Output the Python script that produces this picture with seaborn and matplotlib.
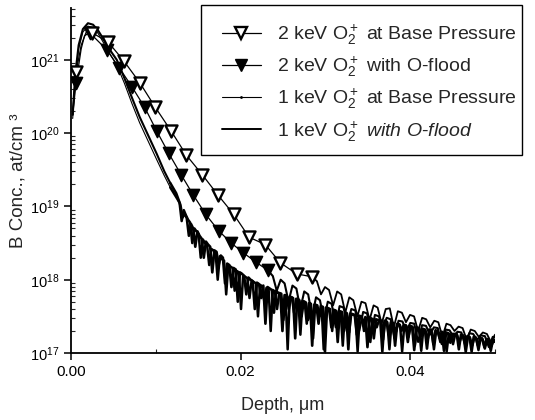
import numpy as np
import pandas as pd
import seaborn as sns
import matplotlib.pyplot as plt
from matplotlib.lines import Line2D
from matplotlib.patches import Rectangle
from matplotlib.ticker import FixedLocator, FormatStrFormatter, LogLocator

# ---------- data (log10 of B concentration, at/cm3) ----------
# 2 keV O2+ at base pressure: marker points, then noisy tail
depth_2b = [0.0002, 0.0006, 0.0012, 0.0018, 0.0025, 0.0044, 0.0062, 0.0081, 0.0099, 0.0118,
            0.0136, 0.0155, 0.0173, 0.0192, 0.0210, 0.0229, 0.0247, 0.0266, 0.0284]
log_2b = [20.30, 20.83, 21.20, 21.38, 21.37, 21.24, 20.99, 20.69, 20.36, 20.03,
          19.70, 19.43, 19.16, 18.89, 18.58, 18.48, 18.23, 18.08, 18.04]
mark_2b = [1, 4, 5, 6, 7, 8, 9, 10, 11, 12, 13, 14, 15, 16, 17, 18]
tail_2b = [17.98, 17.80, 17.90, 17.86, 17.65, 17.84, 17.80, 17.55, 17.76, 17.72, 17.50, 17.70,
           17.68, 17.45, 17.65, 17.62, 17.40, 17.60, 17.61, 17.35, 17.57, 17.55, 17.42, 17.52,
           17.50, 17.30, 17.48, 17.46, 17.35, 17.44, 17.42, 17.22, 17.40, 17.38, 17.30, 17.36,
           17.34, 17.18, 17.32, 17.30, 17.22, 17.28, 17.26, 17.15, 17.25]

# 2 keV O2+ with O-flood
depth_2f = [0.0002, 0.0006, 0.0012, 0.0016, 0.0022, 0.0042, 0.0057, 0.0072, 0.0087, 0.0101,
            0.0115, 0.0130, 0.0144, 0.0159, 0.0174, 0.0189, 0.0203, 0.0218, 0.0232]
log_2f = [20.25, 20.69, 21.15, 21.33, 21.37, 21.14, 20.89, 20.63, 20.35, 20.03,
          19.73, 19.43, 19.16, 18.89, 18.67, 18.50, 18.37, 18.24, 18.13]
mark_2f = [1, 4, 5, 6, 7, 8, 9, 10, 11, 12, 13, 14, 15, 16, 17, 18]
tail_2f = [18.05, 17.85, 18.00, 17.95, 17.70, 17.92, 17.88, 17.60, 17.84, 17.80, 17.50, 17.76,
           17.72, 17.45, 17.70, 17.67, 17.35, 17.64, 17.62, 17.40, 17.60, 17.58, 17.30, 17.56,
           17.54, 17.25, 17.52, 17.50, 17.35, 17.48, 17.46, 17.20, 17.44, 17.43, 17.30, 17.41,
           17.40, 17.15, 17.38, 17.37, 17.25, 17.35, 17.34, 17.12, 17.32, 17.31, 17.22, 17.29,
           17.28, 17.10, 17.27, 17.26, 17.18, 17.24, 17.23, 17.08, 17.22, 17.21]

# 1 keV profiles: smooth near surface, noisy beyond ~0.012 um
depth_1 = [0.0002, 0.0005, 0.0009, 0.0014, 0.0020, 0.0026, 0.0032, 0.0040, 0.0048,
           0.0054, 0.0063, 0.0072, 0.0081, 0.0091, 0.0101, 0.0110, 0.0117]
log_1b = [20.20, 20.75, 21.15, 21.38, 21.46, 21.44, 21.36, 21.20, 21.04,
          20.93, 20.68, 20.40, 20.14, 19.89, 19.64, 19.42, 19.26]
log_1f = [20.25, 20.80, 21.20, 21.42, 21.50, 21.48, 21.40, 21.25, 21.10,
          21.00, 20.75, 20.48, 20.22, 19.97, 19.72, 19.48, 19.32]
tail_1b = [19.10, 19.05, 18.80, 18.95, 18.88, 18.82, 18.78, 18.50, 18.70, 18.66, 18.62, 18.30,
           18.55, 18.50, 18.47, 18.20, 18.42, 18.40, 18.36, 18.00, 18.32, 18.28, 18.26, 17.80,
           18.20, 18.18, 18.16, 17.85, 18.12, 18.10, 17.60, 18.06, 18.04, 18.02, 17.75, 17.99,
           17.97, 17.95, 17.50, 17.93, 17.91, 17.70, 17.89, 17.88, 17.30, 17.86, 17.84, 17.60,
           17.82, 17.81, 17.45, 17.79, 17.05, 17.77, 17.76, 17.55, 17.74, 17.73, 17.25, 17.71,
           17.70, 17.40, 17.68, 17.67, 17.20, 17.66, 17.65, 17.50, 17.63, 17.05, 17.62, 17.61,
           17.60, 17.30, 17.58, 17.57, 17.42, 17.56, 17.10, 17.55, 17.54, 17.28, 17.53, 17.52,
           17.51, 17.02, 17.50, 17.49, 17.30, 17.48, 17.47, 17.15, 17.46, 17.45, 17.35, 17.44,
           17.44, 17.18, 17.43, 17.42, 17.05, 17.41, 17.40, 17.28, 17.39, 17.38, 17.02, 17.37,
           17.37, 17.22, 17.36, 17.35, 17.10, 17.34, 17.33, 17.03, 17.32, 17.31, 17.18, 17.31,
           17.30, 17.05, 17.29, 17.28, 17.15, 17.27, 17.27, 17.02, 17.26, 17.25, 17.12, 17.25,
           17.24, 17.14, 17.23, 17.22, 17.01, 17.21, 17.21, 17.10, 17.20, 17.19, 17.04, 17.19,
           17.18, 17.06, 17.17, 17.17, 17.09, 17.16, 17.15]
tail_1f = [19.18, 19.10, 19.02, 18.85, 18.90, 18.84, 18.60, 18.76, 18.70, 18.45, 18.66, 18.60,
           18.56, 18.30, 18.52, 18.48, 18.45, 18.10, 18.40, 18.38, 18.20, 18.33, 18.30, 17.95,
           18.22, 18.20, 17.90, 18.16, 18.14, 17.70, 18.10, 18.08, 18.05, 17.80, 18.03, 18.00,
           17.98, 17.60, 17.96, 17.94, 17.75, 17.92, 17.40, 17.90, 17.88, 17.86, 17.55, 17.85,
           17.82, 17.80, 17.30, 17.79, 17.78, 17.60, 17.76, 17.75, 17.20, 17.74, 17.72, 17.50,
           17.70, 17.69, 17.45, 17.68, 17.10, 17.66, 17.65, 17.40, 17.64, 17.63, 17.02, 17.62,
           17.60, 17.35, 17.59, 17.58, 17.15, 17.57, 17.56, 17.30, 17.55, 17.05, 17.54, 17.53,
           17.52, 17.25, 17.51, 17.50, 17.40, 17.49, 17.08, 17.48, 17.47, 17.20, 17.46, 17.45,
           17.45, 17.02, 17.44, 17.43, 17.25, 17.42, 17.41, 17.10, 17.40, 17.39, 17.30, 17.38,
           17.38, 17.15, 17.37, 17.36, 17.04, 17.35, 17.34, 17.22, 17.33, 17.32, 17.06, 17.32,
           17.32, 17.12, 17.31, 17.30, 17.20, 17.29, 17.03, 17.28, 17.27, 17.14, 17.26, 17.26,
           17.26, 17.05, 17.25, 17.24, 17.16, 17.23, 17.22, 17.02, 17.22, 17.21, 17.10, 17.20,
           17.20, 17.08, 17.19, 17.19, 17.03, 17.18, 17.18]

labels = [r'2 keV O$_2^+$ at Base Pressure',
          r'2 keV O$_2^+$ with O-flood',
          r'1 keV O$_2^+$ at Base Pressure',
          r'1 keV O$_2^+$ $\it{with\ O}$-$\it{flood}$']


def frame(depth, logc):
    return pd.DataFrame({'depth': list(depth), 'conc': [10 ** v for v in logc]})


def tail_frame(start, stop, tail, last_depth, last_log):
    d = [last_depth] + list(np.linspace(start, stop, len(tail)))
    return frame(d, [last_log] + list(tail))


head_2b = frame(depth_2b, log_2b)
head_2f = frame(depth_2f, log_2f)
head_1b = frame(depth_1, log_1b)
head_1f = frame(depth_1, log_1f)
noisy_2b = tail_frame(0.0290, 0.0500, tail_2b, depth_2b[-1], log_2b[-1])
noisy_2f = tail_frame(0.0238, 0.0502, tail_2f, depth_2f[-1], log_2f[-1])
noisy_1b = tail_frame(0.01255, 0.05005, tail_1b, depth_1[-1], log_1b[-1])
noisy_1f = tail_frame(0.0124, 0.0500, tail_1f, depth_1[-1], log_1f[-1])

# ---------- style ----------
sns.set_theme(style='ticks')
plt.rcParams['font.family'] = ['Liberation Sans', 'DejaVu Sans']
plt.rcParams['mathtext.fontset'] = 'custom'
plt.rcParams['mathtext.rm'] = 'Liberation Sans'
plt.rcParams['mathtext.it'] = 'Liberation Sans:italic'
plt.rcParams['mathtext.bf'] = 'Liberation Sans:bold'

fig = plt.figure(figsize=(5.35, 4.2), dpi=100)
ax = fig.add_axes([71 / 535, 1 - 353 / 420, (495 - 71) / 535, (353 - 8) / 420])

kw = dict(ax=ax, x='depth', y='conc', color='black', estimator=None, sort=False, legend=False)
sns.lineplot(data=head_1b, lw=0.8, **kw)
sns.lineplot(data=head_1f, lw=1.5, **kw)
sns.lineplot(data=noisy_1b, lw=1.8, **kw)
sns.lineplot(data=noisy_1f, lw=1.9, **kw)
sns.lineplot(data=head_2f, lw=0.9, **kw)
sns.lineplot(data=head_2b, lw=0.9, **kw)
sns.lineplot(data=noisy_2f, lw=1.5, **kw)
sns.lineplot(data=noisy_2b, lw=1.3, **kw)

sns.scatterplot(data=head_2f.iloc[mark_2f], x='depth', y='conc', marker='v', s=75,
                color='black', edgecolor='black', linewidth=1.2, zorder=4, ax=ax, legend=False)
sns.scatterplot(data=head_2b.iloc[mark_2b], x='depth', y='conc', marker='v', s=75,
                color='white', edgecolor='black', linewidth=1.7, zorder=5, ax=ax, legend=False)

ax.set_yscale('log')
ax.set_xlim(0, 0.05)
ax.set_ylim(1e17, 5.1e21)

ax.xaxis.set_major_locator(FixedLocator([0.0, 0.02, 0.04]))
ax.xaxis.set_minor_locator(FixedLocator([0.01, 0.03, 0.05]))
ax.xaxis.set_major_formatter(FormatStrFormatter('%.2f'))
ax.yaxis.set_major_locator(LogLocator(base=10, numticks=10))
ax.yaxis.set_minor_locator(LogLocator(base=10, subs=np.arange(2, 10), numticks=20))

ax.tick_params(which='major', direction='out', length=5, width=1.1, labelsize=11, colors='black')
ax.tick_params(which='minor', direction='in', length=3, width=0.8)
ax.tick_params(axis='y', which='major', labelsize=10.5)

for side in ['top', 'right']:
    ax.spines[side].set_visible(False)
for side in ['left', 'bottom']:
    ax.spines[side].set_linewidth(1.3)
    ax.spines[side].set_color('black')

ax.set_xlabel('Depth, μm', fontsize=13, labelpad=13)
ax.set_ylabel('B Conc., at/cm ³', fontsize=13.5, labelpad=2)
ax.grid(False)

# legend
handles = [
    Line2D([], [], color='black', lw=0.9, marker='v', markersize=8.5,
           markerfacecolor='white', markeredgecolor='black', markeredgewidth=1.7),
    Line2D([], [], color='black', lw=0.9, marker='v', markersize=8.5,
           markerfacecolor='black', markeredgecolor='black'),
    Line2D([], [], color='black', lw=0.8, marker='.', markersize=2),
    Line2D([], [], color='black', lw=1.4),
]
fig.legend(handles, labels, loc='upper left', bbox_to_anchor=(222 / 535, 1 - 23 / 420),
           frameon=False, fontsize=14, handlelength=2.0, handletextpad=0.85,
           labelspacing=0.4, borderpad=0, borderaxespad=0)
fig.patches.append(Rectangle((201 / 535, 1 - 155 / 420), (522 - 201) / 535, (155 - 5) / 420,
                             transform=fig.transFigure, fill=False, edgecolor='black', lw=1.0))

fig.savefig('out.png', dpi=100)
